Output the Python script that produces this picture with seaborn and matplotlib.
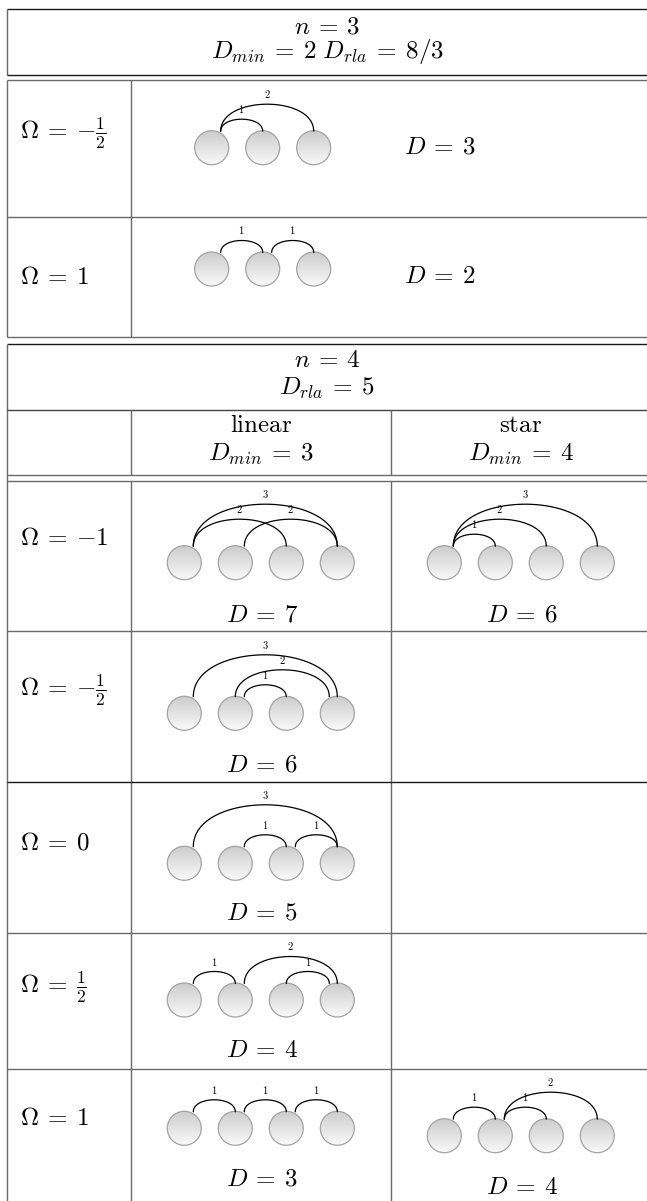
import numpy as np
import pandas as pd
import matplotlib
matplotlib.use("Agg")
import matplotlib.pyplot as plt
from matplotlib.patches import Circle
import seaborn as sns

# ---------------- data ----------------
n3_omegas = [r"{-}\frac{1}{2}", "1"]
n3_edges = [[(0, 1), (0, 2)], [(0, 1), (1, 2)]]
n3_D = [3, 2]
n3_Dmin = 2
n3_Drla = "8/3"

n4_omegas = ["{-}1", r"{-}\frac{1}{2}", "0", r"\frac{1}{2}", "1"]
n4_linear_edges = [
    [(0, 2), (1, 3), (0, 3)],
    [(0, 3), (3, 1), (1, 2)],
    [(0, 3), (1, 2), (2, 3)],
    [(0, 1), (1, 3), (3, 2)],
    [(0, 1), (1, 2), (2, 3)],
]
n4_linear_D = [7, 6, 5, 4, 3]
n4_star_edges = {0: [(0, 1), (0, 2), (0, 3)], 4: [(0, 1), (1, 2), (1, 3)]}
n4_star_D = {0: 6, 4: 4}
n4_Dmin = {"linear": 3, "star": 4}
n4_Drla = 5

# ---------------- style ----------------
sns.set_theme(style="white")
plt.rcParams["font.family"] = ["DejaVu Sans"]
plt.rcParams["mathtext.fontset"] = "cm"

W, H = 647, 1201
fig = plt.figure(figsize=(W / 100, H / 100), dpi=100)
ax = fig.add_axes([0, 0, 1, 1])
ax.set_axis_off()

DARK = "#1a1a1a"
GRAY = "#6a6a6a"
LW = 1.0
BIG = 18
SMALL = 7.5
R = 17.0
SPACING = 51.0
XR = 649  # right edge (off canvas)
EQ = r"\:=\:"


def hline(y, x0=7, x1=XR, c=GRAY):
    ax.plot([x0, x1], [y, y], color=c, lw=LW, solid_capstyle="butt")


def vline(x, y0, y1, c=GRAY):
    ax.plot([x, x], [y0, y1], color=c, lw=LW, solid_capstyle="butt")


def mtext(x, y, s, size=BIG, ha="center"):
    ax.text(x, y, s, fontsize=size, ha=ha, va="center", color="black")


grad = np.linspace(0.80, 0.975, 64)[:, None] * np.ones((1, 8))
arc_rows = []
arc_id = [0]


def diagram(x0, cy, nn, edges):
    xs = [x0 + SPACING * i for i in range(nn)]
    for x in xs:
        circ = Circle((x, cy), R, facecolor="none", edgecolor="#a3a3a3", lw=0.9, zorder=3)
        ax.add_patch(circ)
        im = ax.imshow(grad, cmap="gray", vmin=0, vmax=1, extent=(x - R, x + R, cy + R, cy - R),
                       origin="upper", interpolation="bilinear", zorder=2, aspect="auto")
        im.set_clip_path(circ)
    ytop = cy - 16.5
    for a, b in edges:
        span = abs(a - b)
        h = 15.0 * span - 3.0
        if a < b:
            xa, xb = xs[a] + 9, xs[b]
        else:
            xa, xb = xs[a] - 8, xs[b]
        t = np.linspace(0, 1, 60)
        c = 4.0 / 3.0 * h
        P0 = np.array([xa, ytop]); P1 = np.array([xa, ytop - c])
        P2 = np.array([xb, ytop - c]); P3 = np.array([xb, ytop])
        pts = ((1 - t) ** 3)[:, None] * P0 + (3 * (1 - t) ** 2 * t)[:, None] * P1 \
            + (3 * (1 - t) * t ** 2)[:, None] * P2 + (t ** 3)[:, None] * P3
        for k, (px, py) in enumerate(pts):
            arc_rows.append({"arc": arc_id[0], "k": k, "x": px, "y": py})
        arc_id[0] += 1
        mtext((xa + xb) / 2, ytop - h - 10, r"$%d$" % span, size=SMALL)


# ---------------- table n = 3 ----------------
hline(9, c=DARK)
vline(7, 9, 75)
hline(75, c=DARK)
mtext(327, 27, r"$n%s3$" % EQ)
mtext(327, 52, r"$D_{min}%s%d\ D_{rla}%s%s$" % (EQ, n3_Dmin, EQ, n3_Drla))

hline(80)
vline(7, 80, 337)
vline(131, 80, 337)
hline(216.5)
hline(337)
n3_rows = [(80, 147.7, 133), (216.5, 269, 277)]
for i, (top, cy, oy) in enumerate(n3_rows):
    mtext(20, oy, r"$\Omega%s%s$" % (EQ, n3_omegas[i]), ha="left")
    diagram(211.7, cy, 3, n3_edges[i])
    mtext(440, [147, 276][i], r"$D%s%d$" % (EQ, n3_D[i]))

# ---------------- table n = 4 ----------------
hline(344, c=DARK)
vline(7, 344, 1205)
mtext(327, 360, r"$n%s4$" % EQ)
mtext(327, 388, r"$D_{rla}%s%d$" % (EQ, n4_Drla))
hline(410, c="#444444")
vline(131, 410, 475)
vline(391, 410, 475)
mtext(261, 425, r"$\mathrm{linear}$")
mtext(261, 454, r"$D_{min}%s%d$" % (EQ, n4_Dmin["linear"]))
mtext(521, 425, r"$\mathrm{star}$")
mtext(521, 454, r"$D_{min}%s%d$" % (EQ, n4_Dmin["star"]))
hline(475)
hline(481)
vline(131, 481, 1205)
vline(391, 481, 1205)

row_tops = [481, 631, 782, 933, 1069]
lin_cy = [562.7, 713.3, 863.3, 1000, 1128.3]
lin_Dy = [614, 764, 913, 1050, 1178]
om_y = [538, 690, 843, 987, 1118]
for i, top in enumerate(row_tops):
    if i > 0:
        hline(top, c=DARK if i == 2 else GRAY)
    mtext(20, om_y[i], r"$\Omega%s%s$" % (EQ, n4_omegas[i]), ha="left")
    diagram(184.3, lin_cy[i], 4, n4_linear_edges[i])
    mtext(262, lin_Dy[i], r"$D%s%d$" % (EQ, n4_linear_D[i]))

star_cy = {0: 562.7, 4: 1135.7}
star_Dy = {0: 614, 4: 1187}
for i in n4_star_edges:
    diagram(444.3, star_cy[i], 4, n4_star_edges[i])
    mtext(522, star_Dy[i], r"$D%s%d$" % (EQ, n4_star_D[i]))

arcs = pd.DataFrame(arc_rows)
sns.lineplot(data=arcs, x="x", y="y", units="arc", estimator=None, sort=False,
             color="black", lw=0.9, legend=False, ax=ax, zorder=4)

ax.set_xlim(0, W)
ax.set_ylim(H, 0)
ax.set_axis_off()
fig.savefig("out.png", dpi=100, facecolor="white")
